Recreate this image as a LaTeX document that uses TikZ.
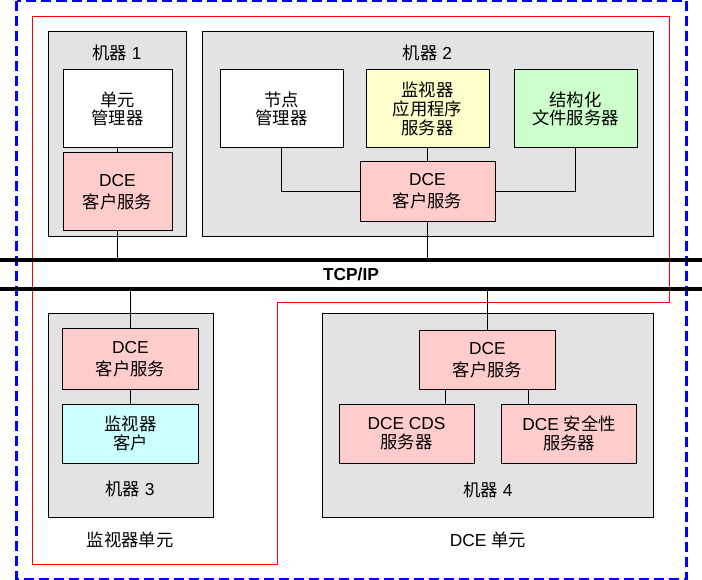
\documentclass[tikz,border=0pt]{standalone}
\usepackage{fontspec}
\setmainfont{Liberation Sans}
\newfontfamily\cjk{Noto Sans CJK SC}
\newcommand{\zh}[1]{{\cjk #1}}
\usetikzlibrary{positioning}
\definecolor{boxgray}{RGB}{227,227,227}
\definecolor{dcepink}{RGB}{255,204,204}
\definecolor{appyellow}{RGB}{255,255,204}
\definecolor{filegreen}{RGB}{204,255,204}
\definecolor{clientcyan}{RGB}{204,255,255}
\definecolor{unitblue}{RGB}{0,0,255}

\begin{document}
\begin{tikzpicture}[x=0.75pt,y=-0.75pt,font=\fontsize{13}{14}\selectfont,
    machine/.style={draw=black,fill=boxgray,line width=0.75pt},
    comp/.style={draw=black,line width=0.75pt,align=center,inner sep=0pt},
    wire/.style={draw=black,line width=0.75pt},
    txt/.style={inner sep=0pt}]
  \useasboundingbox (0,0) rectangle (702,580);

  % cells
  \draw[unitblue,line width=2.25pt,dash pattern=on 7.5pt off 3.75pt] (16.5,1) rectangle (686,579);
  \draw[red,line width=0.9pt] (32.5,16.5) -- (669.5,16.5) -- (669.5,302.5) -- (277.5,302.5) -- (277.5,564.5) -- (32.5,564.5) -- cycle;

  % TCP/IP network
  \draw[line width=2.5pt] (0,260) -- (702,260);
  \draw[line width=2.5pt] (0,289) -- (702,289);
  \node[txt,font=\bfseries\fontsize{13}{14}\selectfont] (tcp) at (351,274.5) {TCP/IP};
  \coordinate (b1) at (117.5,260);
  \coordinate (b2) at (427.5,260);
  \coordinate (b3) at (130.5,289);
  \coordinate (b4) at (487.5,289);

  % machine 1
  \draw[machine] (48.5,31.5) rectangle (186.5,236.5);
  \node[txt] (t1) at (117,53) {\zh{机器} 1};
  \node[comp,fill=white,minimum width=81.75pt,minimum height=58.5pt] (um) at (117.5,109) {\zh{单元}\\\zh{管理器}};
  \node[comp,fill=dcepink,minimum width=81.75pt,minimum height=58.5pt] (dce1) at (117.5,192) {DCE\\[2.5pt]\zh{客户服务}};
  \draw[wire] (um) -- (dce1);
  \draw[wire] (dce1) -- (b1);

  % machine 2
  \draw[machine] (202.5,31.5) rectangle (653.5,236.5);
  \node[txt] (t2) at (427.5,53) {\zh{机器} 2};
  \node[comp,fill=white,minimum width=92.25pt,minimum height=58.5pt] (nm) at (281.5,109) {\zh{节点}\\\zh{管理器}};
  \node[comp,fill=appyellow,minimum width=92.25pt,minimum height=58.5pt] (mas) at (427.5,109) {\zh{监视器}\\\zh{应用程序}\\\zh{服务器}};
  \node[comp,fill=filegreen,minimum width=92.25pt,minimum height=58.5pt] (sfs) at (575.5,109) {\zh{结构化}\\\zh{文件服务器}};
  \node[comp,fill=dcepink,minimum width=101.25pt,minimum height=45pt] (dce2) at (427.5,191.5) {DCE\\[2.5pt]\zh{客户服务}};
  \draw[wire] (nm.south) |- (dce2.west);
  \draw[wire] (mas) -- (dce2);
  \draw[wire] (sfs.south) |- (dce2.east);
  \draw[wire] (dce2) -- (b2);

  % machine 3
  \draw[machine] (48.5,313.5) rectangle (213.5,517.5);
  \node[comp,fill=dcepink,minimum width=102pt,minimum height=45pt] (dce3) at (130.5,359) {DCE\\[2.5pt]\zh{客户服务}};
  \node[comp,fill=clientcyan,minimum width=102pt,minimum height=44.25pt] (mc) at (130.5,433.5) {\zh{监视器}\\\zh{客户}};
  \node[txt] (t3) at (130,489) {\zh{机器} 3};
  \draw[wire] (b3) -- (dce3);
  \draw[wire] (dce3) -- (mc);

  % machine 4
  \draw[machine] (322.5,313.5) rectangle (653.5,517.5);
  \node[comp,fill=dcepink,minimum width=102pt,minimum height=43.5pt] (dce4) at (487.5,360) {DCE\\[2.5pt]\zh{客户服务}};
  \node[comp,fill=dcepink,minimum width=101.25pt,minimum height=44.25pt] (cds) at (406.5,433.5) {DCE CDS\\\zh{服务器}};
  \node[comp,fill=dcepink,minimum width=101.25pt,minimum height=44.25pt] (sec) at (569,433.5) {DCE \zh{安全性}\\\zh{服务器}};
  \node[txt] (t4) at (488,490) {\zh{机器} 4};
  \draw[wire] (b4) -- (dce4);
  \draw[wire] ([xshift=-31.5pt]dce4.south) coordinate (s1) -- (s1 |- cds.north);
  \draw[wire] ([xshift=30.75pt]dce4.south) coordinate (s2) -- (s2 |- sec.north);

  % cell names
  \node[txt] (mcell) at (130,540) {\zh{监视器单元}};
  \node[txt] (dcell) at (488,540) {DCE \zh{单元}};
\end{tikzpicture}
\end{document}
